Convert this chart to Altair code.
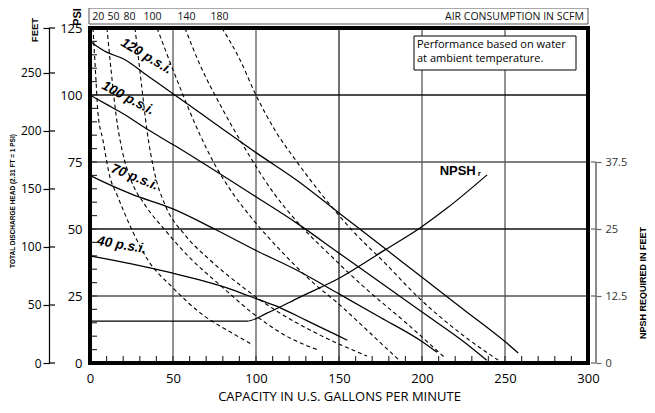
import altair as alt
import pandas as pd

W, H = 498, 335

# ---------------- axis / grid values ----------------
gpm_labels = [0, 50, 100, 150, 200, 250, 300]
psi_labels = [0, 25, 50, 75, 100, 125]
feet_labels = [0, 50, 100, 150, 200, 250]
feet_per_psi = 2.31
npsh_labels = [0, 12.5, 25, 37.5]
npsh_ft_per_psi = 0.5          # right axis: 62.5 ft over the 125 psi height
grid_gpm_dark = [150]
grid_gpm_light = [50, 100, 200, 250]
grid_psi_dark = [50, 100]
grid_psi_light = [25, 75]
minor_gpm = list(range(10, 300, 10))
minor_psi = list(range(5, 125, 5))

# ---------------- discharge pressure curves (gpm, psi head) ----------------
p120_gpm = [0, 10, 20, 35, 50, 75, 100, 125, 150, 175, 200, 225, 250, 258]
p120_head = [120, 116, 113.5, 107, 100.5, 89.5, 78.5, 68, 56, 44, 32, 20, 8, 3.7]
p100_gpm = [0, 10, 20, 35, 50, 67, 100, 125, 150, 175, 200, 225, 239]
p100_head = [100, 96.5, 93, 87, 81.5, 75, 62, 52, 41, 30, 19, 8, 1]
p70_gpm = [0, 10, 25, 50, 75, 100, 125, 150, 175, 200, 209]
p70_head = [70, 67, 63, 57.5, 50, 42, 34.5, 25.8, 17, 8, 4]
p40_gpm = [0, 25, 50, 66, 85, 100, 115, 130, 145, 155]
p40_head = [40, 37, 33.5, 31, 27.5, 24, 20.5, 16, 11.5, 8.5]

# ---------------- air consumption curves (SCFM) ----------------
a20_gpm = [1.8, 3.6, 4.8, 7.8, 12.0, 16.3, 25.3, 34.9, 49.4, 68.1, 82.5, 98.2]
a20_head = [125, 105.6, 93.3, 83.2, 69.4, 62.7, 49.6, 38.4, 28.4, 17.9, 12.3, 6.7]
a50_gpm = [10.2, 12.7, 15.7, 19.3, 24.7, 33.1, 45.2, 60.2, 78.3, 99.4, 120.5, 137.3]
a50_head = [125, 109.3, 92.5, 79.5, 68.3, 59.0, 49.6, 39.2, 29.1, 17.9, 9.3, 4.9]
a80_gpm = [27.1, 30.7, 34.3, 39.2, 45.2, 57.2, 72.3, 90.4, 111.4, 138.6, 166.9]
a80_head = [125, 105.6, 86.9, 70.1, 59.0, 47.8, 38.4, 29.1, 19.8, 10.4, 2.6]
a100_gpm = [40.4, 51.2, 66.3, 75.3, 85.5, 99.4, 114.5, 132.5, 150.6, 168.7, 186.1]
a100_head = [125, 107.5, 85.1, 73.9, 63.8, 52.6, 42.2, 31.0, 21.6, 11.2, 1.1]
a140_gpm = [57.2, 66.3, 79.5, 92.2, 110.2, 126.5, 144.6, 165.7, 189.8, 213.9]
a140_head = [125, 111.2, 95.1, 81.3, 63.8, 51.5, 40.3, 28.0, 15.3, 1.9]
a180_gpm = [79.5, 90.4, 99.4, 111.4, 124.7, 139.8, 157.8, 177.7, 197.6, 222.9, 245.8]
a180_head = [125, 113.1, 100.7, 86.9, 75.0, 62.7, 49.6, 37.3, 24.6, 11.2, 1.1]

scfm_labels = ["20", "50", "80", "100", "140", "180"]
scfm_label_gpm = [4.9, 14.2, 23.8, 37.7, 58.1, 78.0]

# ---------------- NPSH required (gpm, feet) ----------------
npsh_gpm = [0, 94.6, 106.6, 126.5, 150.6, 177.7, 198.8, 215.1, 239.2]
npsh_ft = [7.8, 7.8, 9.3, 12.3, 15.9, 21.1, 25.2, 28.9, 35.1]

# ---------------- curve labels ----------------
curve_label_text = ["120 p.s.i.", "100 p.s.i.", "70 p.s.i.", "40 p.s.i."]
curve_label_gpm = [34.0, 23.0, 27.0, 19.1]
curve_label_head = [114.5, 98.8, 69.3, 44.0]
curve_label_angle = [31, 28, 22, 10]

npsh_label_gpm = [221.5]
npsh_label_head = [71.8]
npsh_sub_gpm = [234.5]
npsh_sub_head = [70.6]

note_lines = ["Performance based on water", "at ambient temperature."]


def curves_frame(items):
    rows = []
    for name, gx, hy in items:
        for i, (a, b) in enumerate(zip(gx, hy)):
            rows.append({"curve": name, "i": i, "gpm": a, "head": b})
    return pd.DataFrame(rows)


solid_df = curves_frame([("120", p120_gpm, p120_head), ("100", p100_gpm, p100_head),
                         ("70", p70_gpm, p70_head), ("40", p40_gpm, p40_head)])
air_df = curves_frame([("20", a20_gpm, a20_head), ("50", a50_gpm, a50_head),
                       ("80", a80_gpm, a80_head), ("100", a100_gpm, a100_head),
                       ("140", a140_gpm, a140_head), ("180", a180_gpm, a180_head)])
npsh_df = pd.DataFrame({"gpm": npsh_gpm, "ft": npsh_ft})
one = pd.DataFrame({"k": [0]})

xs = alt.Scale(domain=[0, 300], nice=False, zero=False)
ys = alt.Scale(domain=[0, 125], nice=False, zero=False)

FONT = "Open Sans"
COND = "Liberation Sans"


def X(field):
    # x axis is shared: leave it unspecified here so the carrier's explicit axis wins
    return alt.X(field, type="quantitative", scale=xs)


def Y(field):
    return alt.Y(field, type="quantitative", scale=ys, axis=None)


x_axis = alt.Axis(values=gpm_labels, title="CAPACITY IN U.S. GALLONS PER MINUTE", grid=False,
                  domain=True, domainOpacity=0, ticks=True, tickOpacity=0, tickSize=0,
                  labelPadding=9, labelFontSize=13, labelFont=FONT,
                  labelColor="black", labelFlush=False, labelOverlap=False,
                  titleFont=FONT, titleFontSize=13, titleFontWeight="normal",
                  titleColor="black", titlePadding=5, orient="bottom", zindex=3)
psi_axis = alt.Axis(values=psi_labels, title=None, grid=False, orient="left",
                    domain=True, domainOpacity=0, ticks=True, tickOpacity=0, tickSize=0,
                    labelPadding=8, labelFontSize=13, labelFont=FONT, labelColor="black",
                    labelFlush=False, labelOverlap=False)
feet_axis = alt.Axis(values=[v / feet_per_psi for v in feet_labels] + [125], title=None,
                     grid=False, orient="left", offset=41, domain=True, domainColor="black",
                     domainWidth=1.2, ticks=True, tickSize=6, tickColor="black", tickWidth=1.2,
                     labelExpr="datum.value > 124 ? '' : format(datum.value * 2.31, '.0f')",
                     labelPadding=2, labelFontSize=12, labelFont=FONT, labelColor="black",
                     labelFlush=False, labelOverlap=False)
npsh_axis = alt.Axis(values=[v / npsh_ft_per_psi for v in npsh_labels], title=None, grid=False,
                     orient="right", offset=8, domain=True, domainOpacity=0,
                     ticks=True, tickSize=5, tickColor="#666", tickWidth=1.2,
                     labelExpr="'' + (datum.value * 0.5)", labelPadding=4, labelFontSize=11,
                     labelFont=FONT, labelColor="#333", labelFlush=False, labelOverlap=False)

# invisible carrier of the x and psi axes
axis_carrier = alt.Chart(solid_df).mark_line(opacity=0).encode(
    x=alt.X("gpm:Q", scale=xs, axis=x_axis),
    y=alt.Y("head:Q", scale=ys, axis=psi_axis),
    detail="curve:N", order="i:Q")

grid_v_light = alt.Chart(pd.DataFrame({"gpm": grid_gpm_light})).mark_rule(
    color="#6e6e6e", strokeWidth=1.5).encode(x=X("gpm"))
grid_v_dark = alt.Chart(pd.DataFrame({"gpm": grid_gpm_dark})).mark_rule(
    color="#222", strokeWidth=1.3).encode(x=X("gpm"))
grid_h_light = alt.Chart(pd.DataFrame({"head": grid_psi_light})).mark_rule(
    color="#555", strokeWidth=1.4).encode(y=Y("head"))
grid_h_dark = alt.Chart(pd.DataFrame({"head": grid_psi_dark})).mark_rule(
    color="#111", strokeWidth=1.3).encode(y=Y("head"))

minor_x = alt.Chart(pd.DataFrame({"gpm": minor_gpm})).mark_rule(
    color="#333", strokeWidth=1.2).encode(x=X("gpm"), y=alt.value(H), y2=alt.value(H - 7))
minor_y = alt.Chart(pd.DataFrame({"head": minor_psi})).mark_rule(
    color="#333", strokeWidth=1.2).encode(y=Y("head"), x=alt.value(0), x2=alt.value(7))

air_lines = alt.Chart(air_df).mark_line(
    color="black", strokeWidth=1.1, strokeDash=[4, 3], interpolate="monotone").encode(
    x=X("gpm"), y=Y("head"), detail="curve:N", order="i:Q")

solid_lines = alt.Chart(solid_df).mark_line(
    color="black", strokeWidth=1.25, interpolate="monotone").encode(
    x=X("gpm"), y=Y("head"), detail="curve:N", order="i:Q")

label_layers = []
for t, g, h, a in zip(curve_label_text, curve_label_gpm, curve_label_head, curve_label_angle):
    label_layers.append(
        alt.Chart(pd.DataFrame({"t": [t], "gpm": [g], "head": [h]})).mark_text(
            font=COND, fontSize=13.5, fontWeight="bold", fontStyle="italic", angle=a,
            align="center", baseline="middle", color="black").encode(
            x=X("gpm"), y=Y("head"), text="t:N"))

npsh_text = alt.Chart(pd.DataFrame({"t": ["NPSH"], "gpm": npsh_label_gpm, "head": npsh_label_head})).mark_text(
    font=COND, fontSize=13, fontWeight="bold", align="center", baseline="middle",
    color="black").encode(x=X("gpm"), y=Y("head"), text="t:N")
npsh_sub = alt.Chart(pd.DataFrame({"t": ["r"], "gpm": npsh_sub_gpm, "head": npsh_sub_head})).mark_text(
    font=COND, fontSize=8, fontWeight="bold", align="center", baseline="middle",
    color="black").encode(x=X("gpm"), y=Y("head"), text="t:N")

# feet (left outer) axis: inner halves of its ticks
feet_df = pd.DataFrame({"ft": feet_labels + [125 * feet_per_psi]})
feet_inner = alt.Chart(feet_df).transform_calculate(p="datum.ft / 2.31").mark_rule(
    color="black", strokeWidth=1.2).encode(
    y=alt.Y("p:Q", scale=ys, axis=feet_axis), x=alt.value(-41), x2=alt.value(-35))

# NPSH (right) axis
npsh_line = alt.Chart(npsh_df).transform_calculate(p="datum.ft * 2").mark_line(
    color="black", strokeWidth=1.25, interpolate="monotone").encode(
    x=X("gpm"), y=alt.Y("p:Q", scale=ys, axis=npsh_axis))
npsh_tick_df = pd.DataFrame({"ft": npsh_labels})
npsh_inner = alt.Chart(npsh_tick_df).transform_calculate(p="datum.ft * 2").mark_rule(
    color="#666", strokeWidth=1.2).encode(
    y=Y("p:Q"), x=alt.value(W + 3), x2=alt.value(W + 8))
npsh_domain = alt.Chart(pd.DataFrame({"lo": [npsh_labels[0]], "hi": [npsh_labels[-1]]})).transform_calculate(
    a="datum.lo * 2", b="datum.hi * 2").mark_rule(color="#666", strokeWidth=1.5).encode(
    y=Y("a:Q"), y2="b:Q", x=alt.value(W + 8))

# top air-consumption strip
air_bar = alt.Chart(one).mark_rect(fill="white", stroke="#555", strokeWidth=1).encode(
    x=alt.value(-1), x2=alt.value(W), y=alt.value(-20), y2=alt.value(-4))
air_labels = alt.Chart(pd.DataFrame({"t": scfm_labels, "gpm": scfm_label_gpm})).mark_text(
    font=FONT, fontSize=10.5, align="center", baseline="middle", color="#111").encode(
    x=X("gpm"), y=alt.value(-11), text="t:N")
air_title = alt.Chart(pd.DataFrame({"t": ["AIR CONSUMPTION IN SCFM"]})).mark_text(
    font=FONT, fontSize=10.5, align="right", baseline="middle", color="#111").encode(
    x=alt.value(W - 4), y=alt.value(-11), text="t:N")

# note box
note_box = alt.Chart(one).mark_rect(fill="white", stroke="black", strokeWidth=1).encode(
    x=alt.value(324), x2=alt.value(486), y=alt.value(8), y2=alt.value(42))
note_l1 = alt.Chart(pd.DataFrame({"t": [note_lines[0]]})).mark_text(
    font=FONT, fontSize=11, align="left", baseline="middle", color="black").encode(
    x=alt.value(327), y=alt.value(17), text="t:N")
note_l2 = alt.Chart(pd.DataFrame({"t": [note_lines[1]]})).mark_text(
    font=FONT, fontSize=11, align="left", baseline="middle", color="black").encode(
    x=alt.value(327), y=alt.value(31), text="t:N")


def vtext(t, x, y, size, font=COND):
    return alt.Chart(pd.DataFrame({"t": [t]})).mark_text(
        font=font, fontSize=size, fontWeight="bold", angle=270, align="center",
        baseline="middle", color="black").encode(x=alt.value(x), y=alt.value(y), text="t:N")


psi_title = vtext("PSI", -12, -11, 11)
feet_title = vtext("FEET", -55, 2, 9.5)
head_title = vtext("TOTAL DISCHARGE HEAD (2.31 FT = 1 PSI)", -77, 173, 6.5)
npsh_title = vtext("NPSH REQUIRED IN FEET", 553, 255, 9)

frame = alt.Chart(one).mark_rect(filled=False, stroke="black", strokeWidth=4).encode(
    x=alt.value(0), x2=alt.value(W), y=alt.value(0), y2=alt.value(H))

chart = alt.layer(
    axis_carrier,
    grid_v_light, grid_v_dark, grid_h_light, grid_h_dark, minor_x, minor_y,
    air_lines, solid_lines, *label_layers, npsh_text, npsh_sub,
    feet_inner, npsh_line, npsh_inner, npsh_domain,
    air_bar, air_labels, air_title, note_box, note_l1, note_l2,
    psi_title, feet_title, head_title, npsh_title, frame,
).resolve_axis(y="independent").properties(
    width=W, height=H,
    padding={"left": 82, "top": 20, "right": 59, "bottom": 42},
    autosize=alt.AutoSizeParams(type="none"),
    background="white",
).configure_view(stroke=None).configure(font=FONT)

chart.save("out.html", embed_options={"renderer": "svg", "actions": False})
